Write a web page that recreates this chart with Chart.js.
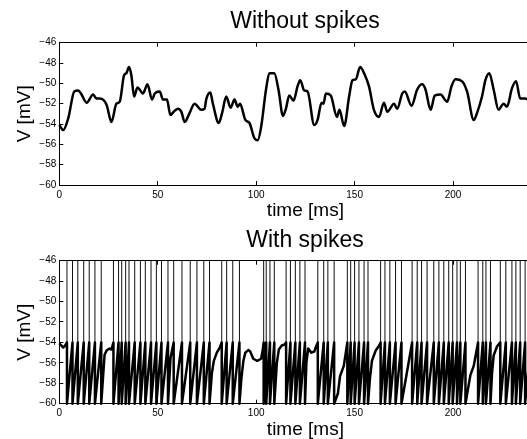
<!DOCTYPE html>
<html>
<head>
<meta charset="utf-8">
<script src="https://cdn.jsdelivr.net/npm/chart.js@4.4.1/dist/chart.umd.min.js"></script>
<style>
  html, body { margin: 0; padding: 0; background: #fff; overflow: hidden; }
  #wrap { position: relative; width: 527px; height: 439px; overflow: hidden; }
  .panel { position: absolute; left: 0; }
</style>
</head>
<body>
<div id="wrap">
  <div class="panel" style="top:0"><canvas id="c-top" width="610" height="220"></canvas></div>
  <div class="panel" style="top:220px"><canvas id="c-bot" width="610" height="219"></canvas></div>
</div>
<script>
// --- data ---
const timeTop = [0, 2, 4.6, 7.6, 9.6, 11, 13.9, 17.2, 18.9, 20.6, 24, 26.5, 29, 30.7, 32.9, 34.1, 35.4, 36.6, 38, 39.7,
  42.5, 44.8, 47.1, 48.5, 51, 52.7, 54.7, 56.4, 58.6, 60.3, 62, 63.7, 66.2, 68.7, 72.1, 73.8, 74.6, 76.7, 78, 81,
  82.7, 84.8, 87, 89, 90.6, 91.8, 94.5, 96.6, 99.1, 100.8, 102.5, 105, 106.7, 109.2, 111.4, 113.6, 115.1, 116.8, 119, 121,
  122.4, 124.4, 126.1, 129.5, 131.2, 133.2, 134.2, 135.4, 137.9, 141, 142.3, 144.7, 147.2, 148.9, 150.6, 152.8, 154.8, 157.3, 159.8, 162.4,
  164.9, 166.6, 170, 171.6, 174.2, 175.5, 178.9, 181.8, 184.3, 186, 188.6, 190.7, 193.6, 197, 199.2, 201.2, 204.6, 207.1, 210.5, 212.2,
  214.7, 216.4, 218.4, 220.6, 223.1, 225.7, 227.4, 229.9, 232, 234.1, 236.6, 240, 245, 250];
const vTop = [-54.1, -54.6, -53.4, -50.8, -50.7, -51.0, -51.9, -51.1, -51.5, -51.5, -52.1, -53.8, -52.0, -51.8, -49.2, -49.0, -48.4, -49.2, -51.3, -50.4,
  -51.0, -50.1, -51.6, -51.0, -50.8, -51.6, -51.6, -53.1, -52.7, -52.5, -52.8, -53.8, -52.9, -52.0, -52.6, -52.5, -51.6, -50.9, -52.0, -53.9,
  -52.9, -51.3, -52.4, -51.6, -52.3, -52.0, -53.6, -53.9, -55.4, -55.6, -54.3, -50.6, -49.0, -49.0, -50.7, -53.2, -52.5, -51.2, -51.7, -50.3,
  -49.7, -50.7, -50.8, -54.1, -53.6, -51.9, -52.0, -51.0, -51.2, -53.3, -52.6, -54.2, -51.3, -49.7, -49.6, -48.4, -49.0, -50.3, -52.6, -53.3,
  -51.9, -52.8, -52.0, -52.5, -51.0, -50.8, -52.2, -50.6, -50.1, -50.6, -52.6, -51.2, -51.1, -51.8, -50.3, -49.6, -49.8, -50.8, -53.6, -52.9,
  -51.3, -49.7, -49.0, -50.6, -52.6, -52.0, -52.3, -50.5, -49.8, -51.5, -51.5, -51.9, -52.6, -52.1];

const spikeTimes = [3.9, 6.7, 9.4, 12.4, 15.2, 18.1, 21.3, 27.5, 30.1, 31.7, 33.7, 35.4, 38.3, 41.2, 43.7, 46.6, 49.3, 51.9, 55.2, 58.1,
  62.3, 66.5, 69.9, 73.4, 76.3, 82.5, 85.0, 88.1, 91.5, 103.8, 105.1, 107.0, 109.2, 115.2, 117.4, 119.9, 122.2, 124.8, 131.3, 134.3,
  136.4, 139.6, 146.3, 148.0, 150.0, 152.2, 154.8, 156.8, 163.2, 165.4, 167.9, 170.8, 173.8, 179.2, 181.8, 184.0, 186.8, 190.2, 192.8, 195.3,
  197.8, 199.8, 202.0, 203.7, 206.3, 212.7, 215.1, 216.7, 219.0, 224.0, 226.8, 229.9, 231.9, 234.1, 236.6, 239.5, 242.5, 245.5, 248.5];
// subthreshold points in the longer gaps between spikes
const subT = [0, 2, 3, 23, 24, 25.5, 26.5, 56.5, 77.5, 78.5, 80, 81.5, 92.5, 93.5, 94.5, 96, 97, 98.5, 100.5, 102.5, 103.3,
  110.5, 111.5, 113, 114.5, 125.5, 126.4, 128, 129.5, 130.6, 141.5, 142.6, 144.5, 157.8, 158.8, 160.7, 162.5, 208.8, 210.5, 219.8, 220.6, 222.3];
const subV = [-54.1, -54.5, -54.3, -55.2, -54.8, -54.6, -54.7, -55.5, -57, -55.8, -55, -54.5, -57.5, -55.8, -55, -54.75, -54.9, -55.6, -55.8, -55.6, -54.8,
  -56, -54.7, -54.3, -54.2, -56, -54.6, -55, -54.9, -54.3, -59, -57.3, -56.3, -57.5, -55.8, -54.8, -54.3, -57.2, -56.3, -57, -55.3, -54.4];

const vThresh = -54, vReset = -60, vPeak = -46;
const xMin = 0, xMax = 250, xStep = 50;
const yMin = -60, yMax = -46, yStep = 2;

// --- build series ---
const topPts = timeTop.map((t, i) => ({ x: t, y: vTop[i] }));

const botPts = subT.map((t, i) => ({ x: t, y: subV[i], k: 0 }));
spikeTimes.forEach(t => { botPts.push({ x: t, y: vThresh, k: 1 }); botPts.push({ x: t, y: vReset, k: 2 }); });
botPts.sort((a, b) => a.x - b.x || a.k - b.k);

const spikePts = spikeTimes.flatMap(t => [{ x: t, y: vThresh }, { x: t, y: vPeak }, { x: t, y: null }]);

// --- chart options ---
const FONT = "'Liberation Sans', Arial, Helvetica, sans-serif";
const minus = v => String(v).replace('-', '\u2212');

const makeOpts = (title, padTop, padBottom, xAxisH) => ({
  responsive: false, animation: false, devicePixelRatio: 1,
  layout: { padding: 0 },
  plugins: {
    legend: { display: false }, tooltip: { enabled: false },
    title: { display: true, text: title, color: '#000', font: { family: FONT, size: 23, weight: 'normal', lineHeight: 1.2 },
      padding: { top: padTop, bottom: padBottom } }
  },
  scales: {
    x: {
      type: 'linear', position: 'bottom', min: xMin, max: xMax,
      ticks: { stepSize: xStep, color: '#000', font: { family: FONT, size: 10 }, padding: 8, maxRotation: 0 },
      grid: { drawOnChartArea: false, tickLength: -4, color: '#000' },
      border: { color: '#000', width: 1 },
      title: { display: true, text: 'time [ms]', color: '#000', font: { family: FONT, size: 19, lineHeight: 1 }, padding: { top: 0, bottom: 0 } },
      afterFit: s => { s.height = xAxisH; }
    },
    x2: {
      type: 'linear', position: 'top', min: xMin, max: xMax,
      ticks: { stepSize: xStep, display: false },
      grid: { drawOnChartArea: false, tickLength: -4, color: '#000' },
      border: { color: '#000', width: 1 },
      afterFit: s => { s.height = 0; }
    },
    y: {
      min: yMin, max: yMax,
      ticks: { stepSize: yStep, color: '#000', font: { family: FONT, size: 10 }, padding: 7, callback: minus },
      grid: { drawOnChartArea: false, tickLength: -4, color: '#000' },
      border: { color: '#000', width: 1 },
      title: { display: true, text: 'V [mV]', color: '#000', font: { family: FONT, size: 19, lineHeight: 1 }, padding: { top: 15.5, bottom: 0 } },
      afterFit: s => { s.width = 59.3; }
    },
    // empty right-hand space so the plot runs past the window edge, as in the figure
    yR: {
      position: 'right', min: yMin, max: yMax,
      ticks: { display: false }, grid: { display: false }, border: { display: false },
      afterFit: s => { s.width = 58.5; }
    }
  }
});

new Chart(document.getElementById('c-top'), {
  type: 'line',
  data: { datasets: [{ data: topPts, borderColor: '#000', borderWidth: 2.5, borderJoinStyle: 'round', pointRadius: 0, cubicInterpolationMode: 'monotone', clip: false }] },
  options: makeOpts('Without spikes', 8, 7.1, 35)
});

new Chart(document.getElementById('c-bot'), {
  type: 'line',
  data: { datasets: [
    { data: spikePts, borderColor: '#111', borderWidth: 1, pointRadius: 0, tension: 0, clip: false },
    { data: botPts, borderColor: '#000', borderWidth: 2.5, borderJoinStyle: 'round', pointRadius: 0, tension: 0, clip: false }
  ] },
  options: makeOpts('With spikes', 7, 6.1, 35.3)
});
</script>
</body>
</html>
